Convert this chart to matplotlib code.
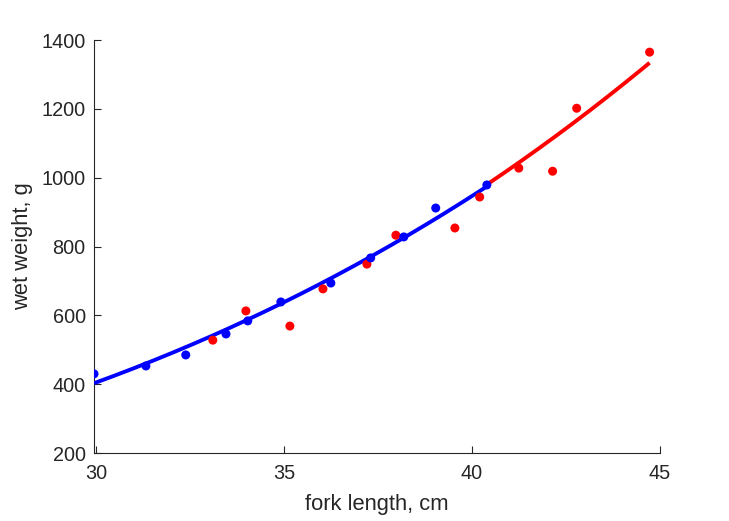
import numpy as np
import matplotlib
matplotlib.use("Agg")
import matplotlib.pyplot as plt

plt.rcParams['font.family'] = ['Liberation Sans', 'DejaVu Sans']

blue_len = [29.95, 31.33, 32.39, 33.46, 34.04, 34.92, 36.25, 37.31, 38.19, 39.04, 40.40]
blue_wt = [430, 453, 485, 546, 584, 639, 694, 767, 828, 912, 979]
red_len = [33.11, 33.99, 35.16, 36.04, 37.21, 37.98, 39.55, 40.21, 41.25, 42.15, 42.79, 44.73]
red_wt = [528, 613, 569, 677, 749, 833, 854, 944, 1028, 1019, 1202, 1365]

# red fitted curve
red_curve_len = [40.40, 41.28, 42.16, 42.87, 43.76, 44.73]
red_curve_wt = [978, 1048, 1117, 1172, 1250, 1332]

xticks = [30, 35, 40, 45]
yticks = [200, 400, 600, 800, 1000, 1200, 1400]

def powfit(x, y):
    b, loga = np.polyfit(np.log(x), np.log(y), 1)
    return lambda t: np.exp(loga) * t ** b

blue_fit = powfit(np.array(blue_len), np.array(blue_wt))
red_fit = powfit(np.array(red_curve_len), np.array(red_curve_wt))

fig = plt.figure(figsize=(7.29, 5.21), dpi=100)
ax = fig.add_axes([0.129, 0.1305, 0.776, 0.7925])

xb = np.linspace(min(blue_len), max(blue_len), 200)
xr = np.linspace(min(red_curve_len), max(red_curve_len), 200)
ax.plot(xr, red_fit(xr), color='#ff0000', lw=2.8, solid_capstyle='butt', zorder=2)
ax.plot(xb, blue_fit(xb), color='#0000ff', lw=2.8, solid_capstyle='butt', zorder=3)
ax.scatter(red_len, red_wt, s=42, color='#ff0000', edgecolors='none', zorder=4)
ax.scatter(blue_len, blue_wt, s=42, color='#0000ff', edgecolors='none', zorder=5)

ax.set_xlim(29.95, 45)
ax.set_ylim(200, 1400)
ax.set_xticks(xticks)
ax.set_yticks(yticks)
for s in ['top', 'right']:
    ax.spines[s].set_visible(False)
for s in ['left', 'bottom']:
    ax.spines[s].set_color('#262626')
    ax.spines[s].set_linewidth(0.8)
ax.tick_params(direction='in', length=5, width=0.8, colors='#262626', labelsize=14.3)
ax.tick_params(axis='x', pad=8)
ax.tick_params(axis='y', pad=6)
ax.set_xlabel('fork length, cm', fontsize=15.8, color='#262626')
ax.set_ylabel('wet weight, g', fontsize=15.8, color='#262626')
ax.xaxis.set_label_coords(0.5, -0.099)
ax.yaxis.set_label_coords(-0.108, 0.5)
fig.savefig('out.png', dpi=100)
